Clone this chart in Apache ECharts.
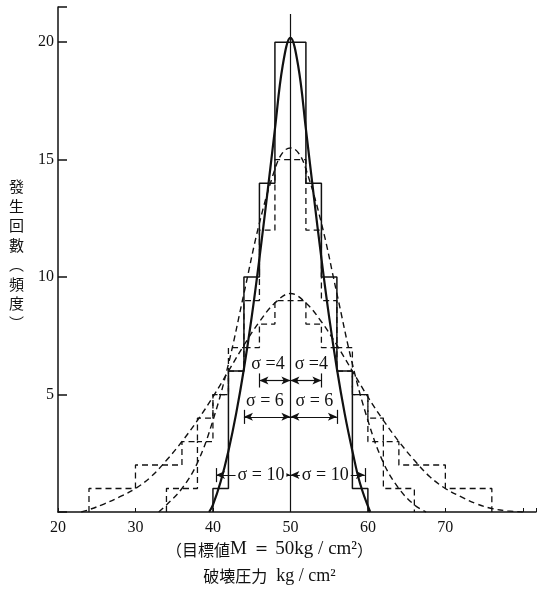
<!DOCTYPE html>
<html>
<head>
<meta charset="utf-8">
<script src="https://cdn.jsdelivr.net/npm/echarts@6/dist/echarts.min.js"></script>
<style>
  html, body { margin: 0; padding: 0; background: #fff; }
  #main { width: 539px; height: 603px; }
</style>
</head>
<body>
<div id="main"></div>
<script>
// tick labels
const xTicks = [20, 30, 40, 50, 60, 70];
const yTicks = [5, 10, 15, 20];

// histograms (bin edges, counts)
const edges4 = [40, 42, 44, 46, 48, 50, 52, 54, 56, 58, 60];
const counts4 = [1, 6, 10, 14, 20, 20, 14, 10, 6, 1];

const edges6 = [34, 36, 38, 40, 42, 44, 46, 48, 50, 52, 54, 56, 58, 60, 62, 64, 66];
const counts6 = [1, 1, 3, 5, 7, 9, 12, 15, 15, 12, 9, 7, 5, 3, 1, 1];

const edges10 = [24, 26, 28, 30, 32, 34, 36, 38, 40, 42, 44, 46, 48, 50, 52, 54, 56, 58, 60, 62, 64, 66, 68, 70, 72, 74, 76];
const counts10 = [1, 1, 1, 2, 2, 2, 3, 4, 5, 6, 7, 8, 9, 9, 8, 7, 6, 5, 4, 3, 2, 2, 2, 1, 1, 1];

// curves
const curveX4 = [39.5, 40, 41, 42, 43, 44, 45, 46, 47, 48, 49, 50, 51, 52, 53, 54, 55, 56, 57, 58, 59, 60.3];
const curveY4 = [0, 0.3, 1.3, 2.6, 4.2, 6.1, 8.3, 10.8, 13.5, 16.3, 19.0, 20.2, 19.0, 16.3, 13.5, 10.8, 8.3, 6.1, 4.2, 2.6, 1.2, 0];

const curveX6 = [33, 34, 36, 38, 40, 42, 44, 46, 48, 49, 50, 51, 52, 54, 56, 58, 60, 62, 64, 66, 67.5];
const curveY6 = [0, 0.3, 1.0, 2.1, 3.9, 6.3, 9.3, 12.3, 14.6, 15.3, 15.5, 15.3, 14.6, 12.3, 9.3, 6.3, 3.9, 2.1, 1.0, 0.3, 0];

const curveX10 = [23, 24, 26, 28, 30, 32, 34, 36, 38, 40, 42, 44, 46, 48, 50, 52, 54, 56, 58, 60, 62, 64, 66, 68, 70, 72, 74, 76, 78, 80];
const curveY10 = [0, 0.1, 0.35, 0.65, 1.0, 1.5, 2.2, 3.0, 3.9, 4.9, 6.0, 7.1, 8.1, 8.9, 9.3, 8.9, 8.1, 7.1, 6.0, 4.9, 3.9, 3.0, 2.2, 1.5, 1.0, 0.65, 0.35, 0.15, 0.05, 0];

//外形のステップ線を作る
const stepData = (edges, counts) => {
    const d = [[edges[0], 0]];
    for (let i = 0; i < counts.length; i++) d.push([edges[i], counts[i]]);
    d.push([edges[edges.length - 1], 0]);
    return d;
};
const pairs = (xs, ys) => xs.map((x, i) => [x, ys[i]]);

const ink = '#111';
const serif = '"Liberation Serif", "DejaVu Serif", serif';
const jp = '"Noto Sans CJK JP", sans-serif';
const dash = [6, 4];

const arrow = (x1, x2, y) => [{ coord: [x1, y] }, { coord: [x2, y] }];
const bar = (x, y) => [{ coord: [x, y - 0.3], symbol: 'none' }, { coord: [x, y + 0.3], symbol: 'none' }];
const sigLabel = (x, y, t, bg) => ({
    coord: [x, y], value: t,
    label: { backgroundColor: bg ? '#fff' : 'transparent', padding: bg ? [0, 2] : 0 }
});

const option = {
    animation: false,
    grid: { left: 58, right: 0, top: 7, bottom: 91 },
    xAxis: {
        type: 'value', min: 20, max: 81.7, interval: 10,
        axisLine: { lineStyle: { color: ink, width: 1.5 } },
        axisTick: { inside: true, length: 4, lineStyle: { color: ink } },
        axisLabel: {
            color: ink, fontFamily: serif, fontSize: 16, margin: 8,
            formatter: (v) => xTicks.includes(v) ? String(v) : ''
        },
        splitLine: { show: false }
    },
    yAxis: {
        type: 'value', min: 0, max: 21.5, interval: 5,
        axisLine: { show: true, lineStyle: { color: ink, width: 1.5 } },
        axisTick: { show: true, inside: true, length: 9, lineStyle: { color: ink, width: 1.5 } },
        axisLabel: {
            color: ink, fontFamily: serif, fontSize: 16, margin: 4,
            formatter: (v) => yTicks.includes(v) ? String(v) : ''
        },
        splitLine: { show: false }
    },
    series: [
        { type: 'line', step: 'end', symbol: 'none', data: stepData(edges10, counts10),
          lineStyle: { color: ink, width: 1.3, type: dash } },
        { type: 'line', step: 'end', symbol: 'none', data: stepData(edges6, counts6),
          lineStyle: { color: ink, width: 1.3, type: dash } },
        { type: 'line', step: 'end', symbol: 'none', data: stepData(edges4, counts4),
          lineStyle: { color: ink, width: 1.5 } },
        { type: 'line', smooth: 0.4, symbol: 'none', data: pairs(curveX10, curveY10),
          lineStyle: { color: ink, width: 1.4, type: dash } },
        { type: 'line', smooth: 0.4, symbol: 'none', data: pairs(curveX6, curveY6),
          lineStyle: { color: ink, width: 1.4, type: dash } },
        { type: 'line', smooth: 0.4, symbol: 'none', data: pairs(curveX4, curveY4),
          lineStyle: { color: ink, width: 2.2 } },
        {
            type: 'line', data: [], symbol: 'none',
            markLine: {
                silent: true, symbol: ['arrow', 'arrow'], symbolSize: [6, 9],
                label: { show: false },
                lineStyle: { color: ink, width: 1.2, type: 'solid' },
                data: [
                    [{ coord: [50, 0], symbol: 'none' }, { coord: [50, 21.2], symbol: 'none' }],
                    arrow(46, 50, 5.6), arrow(50, 54, 5.6), bar(46, 5.6), bar(54, 5.6),
                    arrow(44, 50, 4.05), arrow(50, 56, 4.05), bar(44, 4.05), bar(56, 4.05),
                    arrow(40.4, 50, 1.57), arrow(50, 59.6, 1.57), bar(40.4, 1.57), bar(59.6, 1.57)
                ]
            },
            markPoint: {
                silent: true, symbol: 'rect', symbolSize: 0,
                label: { show: true, formatter: '{c}', color: ink, fontFamily: serif, fontSize: 18 },
                data: [
                    sigLabel(47.1, 6.3, 'σ =4'), sigLabel(52.7, 6.3, 'σ =4'),
                    sigLabel(46.7, 4.7, 'σ = 6'), sigLabel(53.1, 4.7, 'σ = 6'),
                    sigLabel(46.2, 1.57, 'σ = 10', true), sigLabel(54.5, 1.57, 'σ = 10', true)
                ]
            }
        }
    ],
    graphic: [
        {
            type: 'text', left: 9, top: 177,
            style: { text: '發\n生\n回\n數\n︵\n頻\n度\n︶', font: '15px ' + jp, lineHeight: 19.5, fill: ink }
        },
        {
            type: 'text', left: 'center', top: 540,
            style: {
                text: '{j|（目標値}{s|M ＝ 50kg / cm²}{j|）}',
                rich: {
                    j: { fontFamily: jp, fontSize: 16, fill: ink },
                    s: { fontFamily: serif, fontSize: 19, fill: ink }
                }
            }
        },
        {
            type: 'text', left: 'center', top: 567,
            style: {
                text: '{j|破壊圧力}{s|  kg / cm²}',
                rich: {
                    j: { fontFamily: jp, fontSize: 16, fill: ink },
                    s: { fontFamily: serif, fontSize: 18, fill: ink }
                }
            }
        }
    ]
};

echarts.init(document.getElementById('main')).setOption(option);
</script>
</body>
</html>
